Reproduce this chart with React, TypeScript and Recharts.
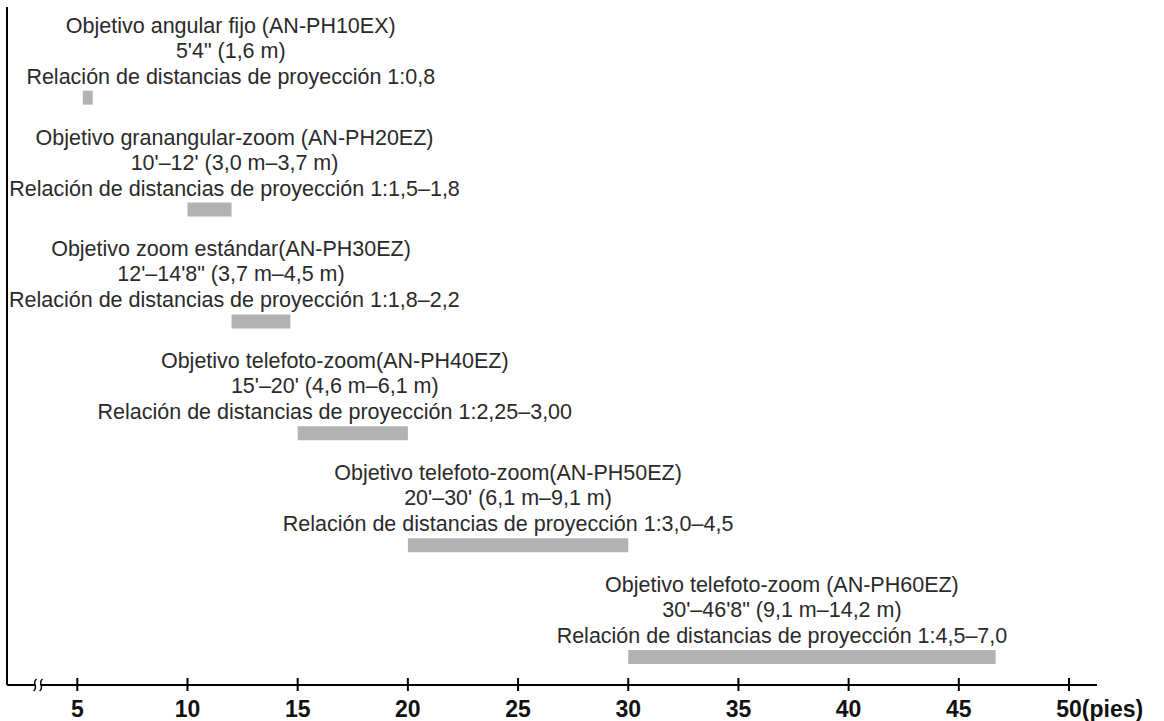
import React from 'react';
import { BarChart, Bar, XAxis, YAxis, LabelList, ReferenceLine, ReferenceDot } from 'recharts';

// Lens ranges (feet)
const lensNames = [
  'Objetivo angular fijo (AN-PH10EX)',
  'Objetivo granangular-zoom (AN-PH20EZ)',
  'Objetivo zoom estándar(AN-PH30EZ)',
  'Objetivo telefoto-zoom(AN-PH40EZ)',
  'Objetivo telefoto-zoom(AN-PH50EZ)',
  'Objetivo telefoto-zoom (AN-PH60EZ)',
];
const distanceTexts = [
  `5'4" (1,6 m)`,
  `10'–12' (3,0 m–3,7 m)`,
  `12'–14'8" (3,7 m–4,5 m)`,
  `15'–20' (4,6 m–6,1 m)`,
  `20'–30' (6,1 m–9,1 m)`,
  `30'–46'8" (9,1 m–14,2 m)`,
];
const ratioTexts = [
  'Relación de distancias de proyección 1:0,8',
  'Relación de distancias de proyección 1:1,5–1,8',
  'Relación de distancias de proyección 1:1,8–2,2',
  'Relación de distancias de proyección 1:2,25–3,00',
  'Relación de distancias de proyección 1:3,0–4,5',
  'Relación de distancias de proyección 1:4,5–7,0',
];
const rangeStart = [5.25, 10, 12, 15, 20, 30];
const rangeEnd = [5.7, 12, 14.67, 20, 30, 46.67];
const xTicks = [5, 10, 15, 20, 25, 30, 35, 40, 45, 50];

const rows = lensNames.map((name, i) => ({ row: i, name, span: [rangeStart[i], rangeEnd[i]] }));

// layout
const X_DOMAIN: [number, number] = [1.81, 51.27];
const Y_DOMAIN: [number, number] = [-0.81, 5.25];
const LABEL_SHIFT = [143, 25, -30, -18, -10, -30];
const LINE_OFFSETS = [-58, -33, -7];
const TEXT_FONT = '"Liberation Sans", Arial, Helvetica, sans-serif';
const TEXT_SIZE = 21.5;
const TICK_SIZE = 23;

let measureCtx: CanvasRenderingContext2D | null = null;
function textWidth(s: string, font: string) {
  if (!measureCtx) measureCtx = document.createElement('canvas').getContext('2d');
  if (!measureCtx) return s.length * 10;
  measureCtx.font = font;
  return measureCtx.measureText(s).width;
}

const renderLensLabel = (props: any) => {
  const { x, y, width, index } = props;
  const center = Number(x) + Number(width) / 2 + LABEL_SHIFT[index];
  const lines = [lensNames[index], distanceTexts[index], ratioTexts[index]];
  return (
    <g>
      {lines.map((s, k) => {
        const w = textWidth(s, `${TEXT_SIZE}px "Liberation Sans"`);
        const sx = Math.max(center - w / 2, 9);
        return (
          <text key={k} x={sx} y={Number(y) + LINE_OFFSETS[k]} textAnchor="start" fontFamily={TEXT_FONT} fontSize={TEXT_SIZE} fill="#2a2a2a">
            {s}
          </text>
        );
      })}
    </g>
  );
};

const AxisTick = (props: any) => {
  const { x, y, payload } = props;
  const label = String(payload.value);
  const isLast = payload.value === xTicks[xTicks.length - 1];
  const half = textWidth(label, `bold ${TICK_SIZE}px "Liberation Sans"`) / 2;
  return (
    <g>
      <line x1={x} x2={x} y1={y - 7} y2={y + 6} stroke="#000" strokeWidth={2} />
      <text x={x - half} y={y + 32} textAnchor="start" fontFamily={TEXT_FONT} fontSize={TICK_SIZE} fontWeight="bold" fill="#111">
        {isLast ? `${label}(pies)` : label}
      </text>
    </g>
  );
};

// axis break glyph: two small S-curves
const BreakMark = (props: any) => {
  const { cx, cy } = props;
  const s = (dx: number) =>
    `M ${cx + dx + 1.5} ${cy - 6} C ${cx + dx - 4} ${cy - 2}, ${cx + dx + 4} ${cy + 2}, ${cx + dx - 1.5} ${cy + 6}`;
  return (
    <g>
      <path d={s(-3)} stroke="#000" strokeWidth={1.4} fill="none" />
      <path d={s(3)} stroke="#000" strokeWidth={1.4} fill="none" />
    </g>
  );
};

export default function App() {
  return (
    <div style={{ width: 1164, height: 721, background: '#fff' }}>
      <style>{'body{margin:0}'}</style>
      <BarChart
        width={1164}
        height={721}
        data={rows}
        layout="vertical"
        margin={{ top: 7, right: 67, bottom: 0, left: 7 }}
      >
        <XAxis
          type="number"
          domain={X_DOMAIN}
          allowDataOverflow
          ticks={xTicks}
          interval={0}
          height={36}
          axisLine={false}
          tickLine={false}
          tickSize={0}
          tickMargin={0}
          tick={<AxisTick />}
        />
        <YAxis type="number" dataKey="row" domain={Y_DOMAIN} allowDataOverflow hide />
        <ReferenceLine x={X_DOMAIN[0]} stroke="#000" strokeWidth={2} ifOverflow="visible" />
        <ReferenceLine
          segment={[{ x: X_DOMAIN[0], y: Y_DOMAIN[1] }, { x: 3.1, y: Y_DOMAIN[1] }]}
          stroke="#000"
          strokeWidth={2}
          ifOverflow="visible"
        />
        <ReferenceLine
          segment={[{ x: 3.34, y: Y_DOMAIN[1] }, { x: X_DOMAIN[1], y: Y_DOMAIN[1] }]}
          stroke="#000"
          strokeWidth={2}
          ifOverflow="visible"
        />
        <ReferenceDot x={3.22} y={Y_DOMAIN[1]} ifOverflow="visible" shape={<BreakMark />} />
        <Bar dataKey="span" fill="#b2b2b2" barSize={14} isAnimationActive={false}>
          <LabelList dataKey="span" content={renderLensLabel} />
        </Bar>
      </BarChart>
    </div>
  );
}
